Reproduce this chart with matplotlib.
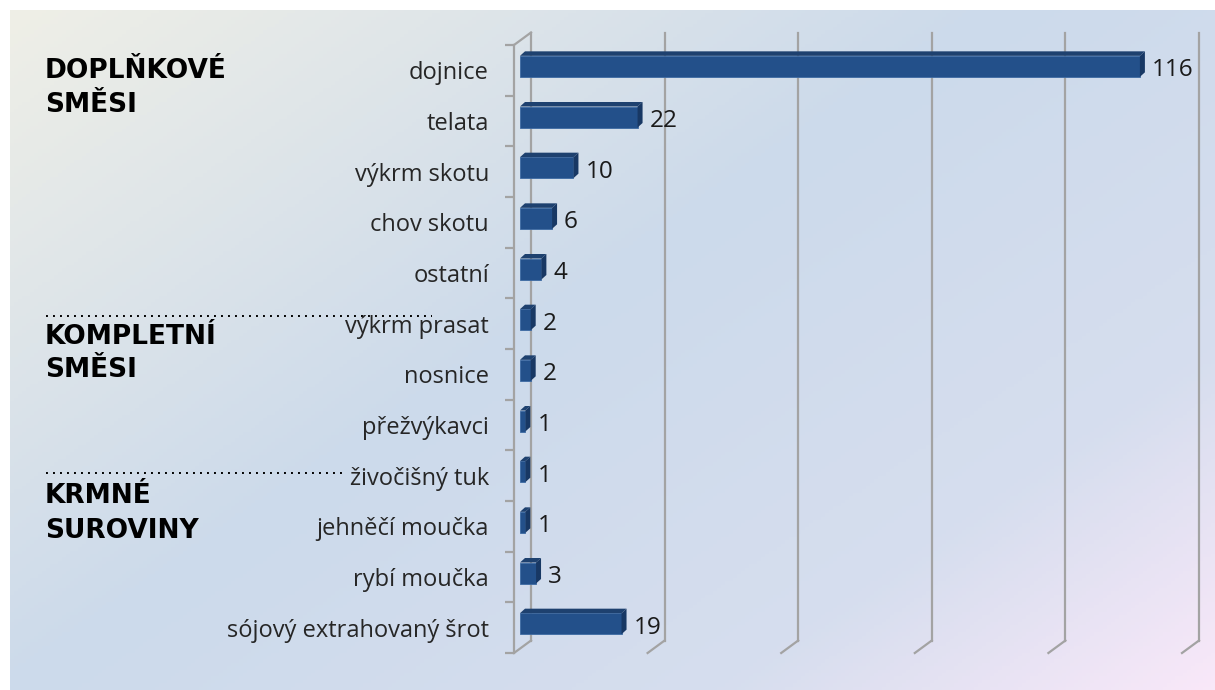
import numpy as np
import matplotlib
matplotlib.use("Agg")
import matplotlib.pyplot as plt
from matplotlib.patches import Polygon
from matplotlib.colors import LinearSegmentedColormap

# data
categories = ["dojnice", "telata", "výkrm skotu", "chov skotu", "ostatní",
              "výkrm prasat", "nosnice", "přežvýkavci",
              "živočišný tuk", "jehněčí moučka", "rybí moučka",
              "sójový extrahovaný šrot"]
values = [116, 22, 10, 6, 4, 2, 2, 1, 1, 1, 3, 19]
groups = [("DOPLŇKOVÉ", "SMĚSI"), ("KOMPLETNÍ", "SMĚSI"), ("KRMNÉ", "SUROVINY")]
xticks = [0, 25, 50, 75, 100, 125]

W, H = 1215, 690
fig = plt.figure(figsize=(W / 100, H / 100), dpi=100)
fig.patch.set_facecolor("white")

# background panel with diagonal gradient (pixel coordinates)
bg = fig.add_axes([10 / W, 0, (W - 10) / W, (H - 10) / H])
bg.set_xlim(10, W)
bg.set_ylim(H, 10)
bg.axis("off")
yy, xx = np.mgrid[0:1:200j, 0:1:300j]
t = (xx * 0.55 + yy * 0.45)
cmap = LinearSegmentedColormap.from_list("bgc", [
    (0.0, (0.937, 0.937, 0.905)),
    (0.45, (0.800, 0.855, 0.922)),
    (0.78, (0.840, 0.870, 0.935)),
    (1.0, (0.975, 0.910, 0.975))])
bg.imshow(t, cmap=cmap, extent=(10, W, H, 10), aspect="auto", vmin=0, vmax=1)

# group headers and dotted separators
header_y = [(78, 112), (344, 377), (503, 538)]
for (l1, l2), (y1, y2) in zip(groups, header_y):
    bg.text(45, y1, l1, fontsize=19, fontweight="bold", family="DejaVu Sans",
            va="baseline", ha="left", color="black")
    bg.text(45, y2, l2, fontsize=19, fontweight="bold", family="DejaVu Sans",
            va="baseline", ha="left", color="black")
bg.plot([46, 432], [316, 316], color="black", lw=1.4, dashes=(1, 2.6))
bg.plot([46, 342], [473, 473], color="black", lw=1.4, dashes=(1, 2.6))

# main chart axes, front plane of the 3D box
ax = fig.add_axes([514 / W, (H - 653) / H, 668 / W, 608 / H])
ax.patch.set_alpha(0)
n = len(categories)
ax.set_xlim(0, 125)
ax.set_ylim(n - 0.5, -0.5)

px_x = 668 / 125     # pixels per value unit
px_y = 608 / n       # pixels per category
dxd, dyd = 17 / px_x, 12.5 / px_y     # depth of the box
grid_c = "#a3a3a3"

# back wall gridlines + floor edges
for v in xticks:
    ax.plot([v + dxd, v + dxd], [-0.5 - dyd, n - 0.5 - dyd], color=grid_c,
            lw=1.6, clip_on=False, zorder=1)
    ax.plot([v, v + dxd], [n - 0.5, n - 0.5 - dyd], color=grid_c,
            lw=1.6, clip_on=False, zorder=1)
# left wall edges
ax.plot([0, dxd], [-0.5, -0.5 - dyd], color=grid_c, lw=1.6, clip_on=False, zorder=1)

# 3D bars
bx, by = 6 / px_x, 4 / px_y      # bar offset from front plane
ddx, ddy = 5 / px_x, 4.5 / px_y  # bar depth
bh = 21 / px_y
ypos = np.arange(n) - by
ax.barh(ypos, values, left=bx, height=bh, color="#23508a",
        edgecolor="#3d6aa3", linewidth=0.6, zorder=3)
for y, v in zip(ypos, values):
    yt, yb = y - bh / 2, y + bh / 2
    x1 = bx + v
    ax.add_patch(Polygon([(bx, yt), (x1, yt), (x1 + ddx, yt - ddy), (bx + ddx, yt - ddy)],
                         closed=True, facecolor="#1e416f", edgecolor="none", zorder=3))
    ax.add_patch(Polygon([(x1, yt), (x1, yb), (x1 + ddx, yb - ddy), (x1 + ddx, yt - ddy)],
                         closed=True, facecolor="#183864", edgecolor="none", zorder=3))
    ax.text(x1 + ddx + 7 / px_x, y + 0.08, str(v), fontsize=17.5, family="Open Sans",
            va="center", ha="left", color="#1a1a1a", zorder=4)

# axis styling
for s in ["top", "right", "bottom"]:
    ax.spines[s].set_visible(False)
ax.spines["left"].set_color(grid_c)
ax.spines["left"].set_linewidth(1.6)
ax.set_xticks([])
ax.set_yticks(np.arange(-0.5, n, 1.0))
ax.set_yticklabels([])
ax.tick_params(axis="y", which="major", length=6.5, width=1.6, color=grid_c)
ax.set_yticks(np.arange(n), minor=True)
ax.set_yticklabels(categories, minor=True, fontsize=17, family="Open Sans",
                   color="#262626")
ax.tick_params(axis="y", which="minor", length=0, pad=18)

fig.savefig("out.png", dpi=100, facecolor="white")
